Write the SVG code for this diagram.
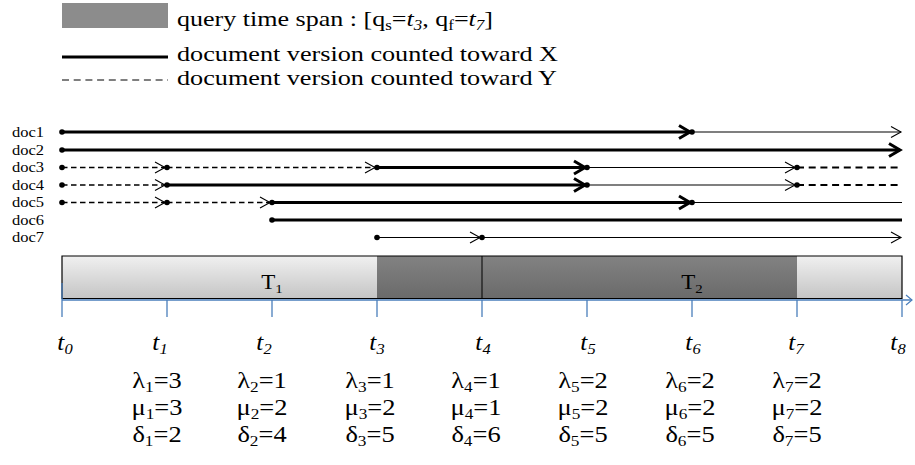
<svg xmlns="http://www.w3.org/2000/svg" width="915" height="465" viewBox="0 0 915 465">
  <style>
    text { font-family: "Liberation Serif", "Times New Roman", serif; fill: #000; }
    .lg { font-size: 21.5px; }
    .doc { font-size: 14.5px; }
    .tl { font-size: 23px; font-style: italic; }
    .cell { font-size: 23px; }
    .seg { font-size: 20px; }
    .thick { stroke: #000; stroke-width: 3.2; fill: none; }
    .thin { stroke: #000; stroke-width: 1.2; fill: none; }
    .dash { stroke: #000; stroke-width: 1.3; stroke-dasharray: 5.5 3.5; fill: none; }
    .dash2 { stroke: #000; stroke-width: 2; stroke-dasharray: 7 4.7; fill: none; }
    .dot { fill: #000; }
    .axis { stroke: #4a7ebb; stroke-width: 1.3; fill: none; }
  </style>
  <defs>
    <linearGradient id="light" x1="0" y1="0" x2="0" y2="1">
      <stop offset="0" stop-color="#f0f0f0"/>
      <stop offset="1" stop-color="#c4c4c4"/>
    </linearGradient>
    <linearGradient id="dark" x1="0" y1="0" x2="0" y2="1">
      <stop offset="0" stop-color="#828282"/>
      <stop offset="1" stop-color="#6a6a6a"/>
    </linearGradient>
    <marker id="boldArrow" markerUnits="userSpaceOnUse" markerWidth="16" markerHeight="16" viewBox="-12 -8 14 16" refX="0" refY="0" orient="auto" overflow="visible">
      <path d="M-11,-6.5 L0,0 L-11,6.5" fill="none" stroke="#000" stroke-width="3" stroke-linejoin="miter"/>
    </marker>
    <marker id="thinArrow" markerUnits="userSpaceOnUse" markerWidth="14" markerHeight="14" viewBox="-11 -7 12 14" refX="0" refY="0" orient="auto" overflow="visible">
      <path d="M-10,-5.5 L0,0 L-10,5.5" fill="none" stroke="#000" stroke-width="1.1"/>
    </marker>
    <marker id="axisArrow" markerUnits="userSpaceOnUse" markerWidth="12" markerHeight="12" viewBox="-8 -6 10 12" refX="0" refY="0" orient="auto" overflow="visible">
      <path d="M-6,-5 L0,0 L-6,5" fill="none" stroke="#4a7ebb" stroke-width="1.2"/>
    </marker>
  </defs>

  <!-- legend -->
  <g id="legend">
    <rect x="62" y="3" width="106" height="25" fill="#8c8c8c"/>
    <text class="lg" x="177" y="26" textLength="316" lengthAdjust="spacingAndGlyphs">query time span : [q<tspan font-size="14" dy="4">s</tspan><tspan dy="-4">=</tspan><tspan font-style="italic">t</tspan><tspan font-size="14" font-style="italic" dy="4">3</tspan><tspan dy="-4">, q</tspan><tspan font-size="14" dy="4">f</tspan><tspan dy="-4">=</tspan><tspan font-style="italic">t</tspan><tspan font-size="14" font-style="italic" dy="4">7</tspan><tspan dy="-4">]</tspan></text>
    <line x1="62" y1="57" x2="168" y2="57" stroke="#000" stroke-width="3"/>
    <text class="lg" x="177" y="61" textLength="381" lengthAdjust="spacingAndGlyphs">document version counted toward X</text>
    <line x1="62" y1="80" x2="168" y2="80" stroke="#000" stroke-width="1.2" stroke-dasharray="7 4.7"/>
    <text class="lg" x="177" y="85" textLength="380" lengthAdjust="spacingAndGlyphs">document version counted toward Y</text>
  </g>

  <!-- document labels -->
  <g id="doc-labels" class="doc">
    <text x="12" y="137" textLength="32" lengthAdjust="spacingAndGlyphs">doc1</text>
    <text x="12" y="154.5" textLength="32" lengthAdjust="spacingAndGlyphs">doc2</text>
    <text x="12" y="172" textLength="32" lengthAdjust="spacingAndGlyphs">doc3</text>
    <text x="12" y="189.5" textLength="32" lengthAdjust="spacingAndGlyphs">doc4</text>
    <text x="12" y="207" textLength="32" lengthAdjust="spacingAndGlyphs">doc5</text>
    <text x="12" y="224.5" textLength="32" lengthAdjust="spacingAndGlyphs">doc6</text>
    <text x="12" y="242" textLength="32" lengthAdjust="spacingAndGlyphs">doc7</text>
  </g>

  <!-- document version lifelines -->
  <g id="connectors">
    <!-- doc1 -->
    <line class="thick" x1="62" y1="132" x2="690" y2="132" marker-end="url(#boldArrow)"/>
    <line class="thin" x1="692" y1="132" x2="901" y2="132" marker-end="url(#thinArrow)"/>
    <!-- doc2 -->
    <line class="thick" x1="62" y1="150" x2="900" y2="150" marker-end="url(#boldArrow)"/>
    <!-- doc3 -->
    <line class="dash" x1="62" y1="167.5" x2="165" y2="167.5" marker-end="url(#thinArrow)"/>
    <line class="dash" x1="167" y1="167.5" x2="375" y2="167.5" marker-end="url(#thinArrow)"/>
    <line class="thick" x1="377" y1="167.5" x2="585" y2="167.5" marker-end="url(#boldArrow)"/>
    <line class="thin" x1="587" y1="167.5" x2="795" y2="167.5" marker-end="url(#thinArrow)"/>
    <line class="dash2" x1="797" y1="167.5" x2="902" y2="167.5"/>
    <!-- doc4 -->
    <line class="dash" x1="62" y1="185" x2="165" y2="185" marker-end="url(#thinArrow)"/>
    <line class="thick" x1="167" y1="185" x2="585" y2="185" marker-end="url(#boldArrow)"/>
    <line class="thin" x1="587" y1="185" x2="795" y2="185" stroke-width="1.5" marker-end="url(#thinArrow)"/>
    <line class="dash2" x1="797" y1="185" x2="902" y2="185"/>
    <!-- doc5 -->
    <line class="dash" x1="62" y1="202.5" x2="165" y2="202.5" marker-end="url(#thinArrow)"/>
    <line class="dash" x1="167" y1="202.5" x2="270" y2="202.5" marker-end="url(#thinArrow)"/>
    <line class="thick" x1="272" y1="202.5" x2="690" y2="202.5" marker-end="url(#boldArrow)"/>
    <line class="thin" x1="692" y1="202.5" x2="902" y2="202.5"/>
    <!-- doc6 -->
    <line class="thick" x1="272" y1="220" x2="902" y2="220"/>
    <!-- doc7 -->
    <line class="thin" x1="377" y1="237.5" x2="480" y2="237.5" marker-end="url(#thinArrow)"/>
    <line class="thin" x1="482" y1="237.5" x2="901" y2="237.5" marker-end="url(#thinArrow)"/>
  </g>

  <!-- version start points -->
  <g id="version-points" class="dot">
    <circle cx="62" cy="132" r="2.8"/><circle cx="692" cy="132" r="2.8"/>
    <circle cx="62" cy="150" r="2.8"/>
    <circle cx="62" cy="167.5" r="2.8"/><circle cx="167" cy="167.5" r="2.8"/><circle cx="377" cy="167.5" r="2.8"/><circle cx="587" cy="167.5" r="2.8"/><circle cx="797" cy="167.5" r="2.8"/>
    <circle cx="62" cy="185" r="2.8"/><circle cx="167" cy="185" r="2.8"/><circle cx="587" cy="185" r="2.8"/><circle cx="797" cy="185" r="2.8"/>
    <circle cx="62" cy="202.5" r="2.8"/><circle cx="167" cy="202.5" r="2.8"/><circle cx="272" cy="202.5" r="2.8"/><circle cx="692" cy="202.5" r="2.8"/>
    <circle cx="272" cy="220" r="2.8"/>
    <circle cx="377" cy="237.5" r="2.8"/><circle cx="482" cy="237.5" r="2.8"/>
  </g>

  <!-- time bar with query span -->
  <g id="time-bar">
    <rect x="62" y="256" width="315" height="43" fill="url(#light)"/>
    <rect x="377" y="256" width="420" height="43" fill="url(#dark)"/>
    <rect x="797" y="256" width="105" height="43" fill="url(#light)"/>
    <path d="M62,299 V256 H902 V299" fill="none" stroke="#000" stroke-width="1.2"/>
    <line x1="482" y1="256" x2="482" y2="299" stroke="#000" stroke-width="1"/>
    <line x1="62" y1="298.5" x2="902" y2="298.5" stroke="#000" stroke-width="1"/>
    <text class="seg" transform="translate(272,289) scale(1.15,1)" text-anchor="middle">T<tspan font-size="13" dy="4">1</tspan></text>
    <text class="seg" transform="translate(692,289) scale(1.15,1)" text-anchor="middle">T<tspan font-size="13" dy="4">2</tspan></text>
  </g>

  <!-- time axis -->
  <g id="axis">
    <line class="axis" x1="62" y1="300" x2="912" y2="300" marker-end="url(#axisArrow)"/>
    <line class="axis" x1="62" y1="283" x2="62" y2="317"/>
    <line class="axis" x1="167" y1="300" x2="167" y2="317"/>
    <line class="axis" x1="272" y1="300" x2="272" y2="317"/>
    <line class="axis" x1="377" y1="300" x2="377" y2="317"/>
    <line class="axis" x1="482" y1="300" x2="482" y2="317"/>
    <line class="axis" x1="587" y1="300" x2="587" y2="317"/>
    <line class="axis" x1="692" y1="300" x2="692" y2="317"/>
    <line class="axis" x1="797" y1="300" x2="797" y2="317"/>
    <line class="axis" x1="902" y1="300" x2="902" y2="317"/>
  </g>

  <!-- time point labels -->
  <g id="time-labels" class="tl" text-anchor="middle">
    <text transform="translate(65,350) scale(1.1,1)">t<tspan font-size="15" dy="4">0</tspan></text>
    <text transform="translate(160,350) scale(1.1,1)">t<tspan font-size="15" dy="4">1</tspan></text>
    <text transform="translate(264,350) scale(1.1,1)">t<tspan font-size="15" dy="4">2</tspan></text>
    <text transform="translate(377,350) scale(1.1,1)">t<tspan font-size="15" dy="4">3</tspan></text>
    <text transform="translate(483,350) scale(1.1,1)">t<tspan font-size="15" dy="4">4</tspan></text>
    <text transform="translate(588,350) scale(1.1,1)">t<tspan font-size="15" dy="4">5</tspan></text>
    <text transform="translate(693,350) scale(1.1,1)">t<tspan font-size="15" dy="4">6</tspan></text>
    <text transform="translate(796,350) scale(1.1,1)">t<tspan font-size="15" dy="4">7</tspan></text>
    <text transform="translate(898,350) scale(1.1,1)">t<tspan font-size="15" dy="4">8</tspan></text>
  </g>

  <!-- per-interval counts -->
  <g id="counts" class="cell" text-anchor="middle">
    <text transform="translate(157,388) scale(1.15,1)">λ<tspan font-size="15" dy="4">1</tspan><tspan dy="-4">=3</tspan></text>
    <text transform="translate(157,415) scale(1.15,1)">μ<tspan font-size="15" dy="4">1</tspan><tspan dy="-4">=3</tspan></text>
    <text transform="translate(157,442) scale(1.15,1)">δ<tspan font-size="15" dy="4">1</tspan><tspan dy="-4">=2</tspan></text>

    <text transform="translate(262,388) scale(1.15,1)">λ<tspan font-size="15" dy="4">2</tspan><tspan dy="-4">=1</tspan></text>
    <text transform="translate(262,415) scale(1.15,1)">μ<tspan font-size="15" dy="4">2</tspan><tspan dy="-4">=2</tspan></text>
    <text transform="translate(262,442) scale(1.15,1)">δ<tspan font-size="15" dy="4">2</tspan><tspan dy="-4">=4</tspan></text>

    <text transform="translate(370,388) scale(1.15,1)">λ<tspan font-size="15" dy="4">3</tspan><tspan dy="-4">=1</tspan></text>
    <text transform="translate(370,415) scale(1.15,1)">μ<tspan font-size="15" dy="4">3</tspan><tspan dy="-4">=2</tspan></text>
    <text transform="translate(370,442) scale(1.15,1)">δ<tspan font-size="15" dy="4">3</tspan><tspan dy="-4">=5</tspan></text>

    <text transform="translate(476,388) scale(1.15,1)">λ<tspan font-size="15" dy="4">4</tspan><tspan dy="-4">=1</tspan></text>
    <text transform="translate(476,415) scale(1.15,1)">μ<tspan font-size="15" dy="4">4</tspan><tspan dy="-4">=1</tspan></text>
    <text transform="translate(476,442) scale(1.15,1)">δ<tspan font-size="15" dy="4">4</tspan><tspan dy="-4">=6</tspan></text>

    <text transform="translate(583,388) scale(1.15,1)">λ<tspan font-size="15" dy="4">5</tspan><tspan dy="-4">=2</tspan></text>
    <text transform="translate(583,415) scale(1.15,1)">μ<tspan font-size="15" dy="4">5</tspan><tspan dy="-4">=2</tspan></text>
    <text transform="translate(583,442) scale(1.15,1)">δ<tspan font-size="15" dy="4">5</tspan><tspan dy="-4">=5</tspan></text>

    <text transform="translate(690,388) scale(1.15,1)">λ<tspan font-size="15" dy="4">6</tspan><tspan dy="-4">=2</tspan></text>
    <text transform="translate(690,415) scale(1.15,1)">μ<tspan font-size="15" dy="4">6</tspan><tspan dy="-4">=2</tspan></text>
    <text transform="translate(690,442) scale(1.15,1)">δ<tspan font-size="15" dy="4">6</tspan><tspan dy="-4">=5</tspan></text>

    <text transform="translate(797,388) scale(1.15,1)">λ<tspan font-size="15" dy="4">7</tspan><tspan dy="-4">=2</tspan></text>
    <text transform="translate(797,415) scale(1.15,1)">μ<tspan font-size="15" dy="4">7</tspan><tspan dy="-4">=2</tspan></text>
    <text transform="translate(797,442) scale(1.15,1)">δ<tspan font-size="15" dy="4">7</tspan><tspan dy="-4">=5</tspan></text>
  </g>
</svg>
